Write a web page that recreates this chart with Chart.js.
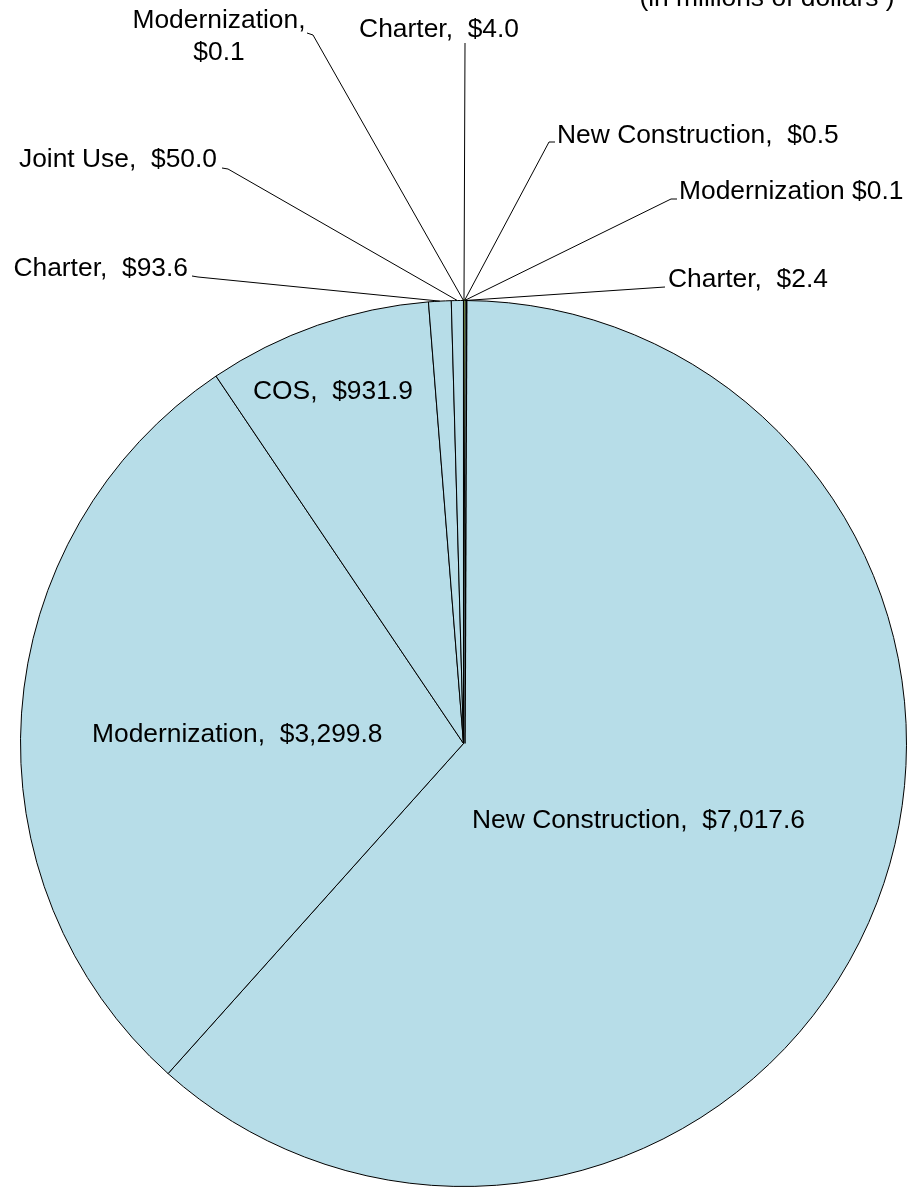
<!DOCTYPE html>
<html>
<head>
<meta charset="utf-8">
<script src="https://cdn.jsdelivr.net/npm/chart.js@4"></script>
<style>
  html, body { margin: 0; padding: 0; background: #fff; overflow: hidden; }
  #wrap { position: absolute; left: 0; top: 0; }
</style>
</head>
<body>
<div id="wrap"><canvas id="pie" width="909" height="1189"></canvas></div>
<script>
// slices, clockwise from 12 o'clock (in millions of dollars)
const categories = [
  "Charter", "New Construction", "Modernization", "Charter",
  "New Construction", "Modernization", "COS", "Charter", "Joint Use", "Modernization"
];
const values = [4.0, 0.5, 0.1, 2.4, 7017.6, 3299.8, 931.9, 93.6, 50.0, 0.1];
const sliceColors = [
  "#9BBB59", "#9BBB59", "#9BBB59", "#9BBB59",
  "#B7DDE8", "#B7DDE8", "#B7DDE8", "#B7DDE8", "#B7DDE8", "#B7DDE8"
];
const subtitle = "(in millions of dollars )";

// the tiny green wedges are outlined in their own colour so they stay visible
const edgeColors = sliceColors.map(c => c === "#9BBB59" ? "#9BBB59" : "#000");
const edgeWidths = sliceColors.map(c => c === "#9BBB59" ? 3 : 1);

// where each label sits (baseline), and the leader line start
const placement = [
  { sep: ",  ", x: 519, y: 37, align: "right", lead: [[465, 43]] },
  { sep: ",  ", x: 557, y: 143, align: "left", lead: [[555, 142], [549, 142]] },
  { sep: " ", x: 679, y: 199, align: "left", lead: [[677, 199], [671, 199]] },
  { sep: ",  ", x: 668, y: 287, align: "left", lead: [[665, 287]] },
  { sep: ",  ", x: 472, y: 828, align: "left" },
  { sep: ",  ", x: 92, y: 742, align: "left" },
  { sep: ",  ", x: 253, y: 399, align: "left" },
  { sep: ",  ", x: 188, y: 276, align: "right", lead: [[192, 276], [198, 277]] },
  { sep: ",  ", x: 217, y: 167, align: "right", lead: [[222, 168], [228, 169]] },
  { sep: ",\n", x: 219, y: 28, align: "center", lead: [[307, 33], [313, 35]] }
];

const FONT = '26.4px "Liberation Sans", Arial, sans-serif';

function fmt(v) {
  return v.toLocaleString("en-US", { minimumFractionDigits: 1, maximumFractionDigits: 1 });
}

const labelPlugin = {
  id: "sliceLabels",
  afterDatasetsDraw(chart) {
    const ctx = chart.ctx;
    const meta = chart.getDatasetMeta(0);
    ctx.save();

    // black rule on the right side of the green strip
    const first = meta.data[4].getProps(["x", "y", "startAngle", "outerRadius"], true);
    ctx.strokeStyle = "#000";
    ctx.lineWidth = 1.5;
    ctx.beginPath();
    ctx.moveTo(first.x + 1.5, first.y);
    ctx.lineTo(first.x + 1.5 + Math.cos(first.startAngle) * first.outerRadius, first.y + Math.sin(first.startAngle) * first.outerRadius);
    ctx.stroke();

    ctx.font = FONT;
    ctx.fillStyle = "#000";
    ctx.lineWidth = 1;
    ctx.textBaseline = "alphabetic";

    meta.data.forEach((arc, i) => {
      const p = placement[i];
      const a = arc.getProps(["x", "y", "startAngle", "endAngle", "outerRadius"], true);
      const mid = (a.startAngle + a.endAngle) / 2;
      const ex = a.x + Math.cos(mid) * a.outerRadius;
      const ey = a.y + Math.sin(mid) * a.outerRadius;

      if (p.lead) {
        ctx.beginPath();
        ctx.moveTo(p.lead[0][0], p.lead[0][1]);
        for (let k = 1; k < p.lead.length; k++) ctx.lineTo(p.lead[k][0], p.lead[k][1]);
        ctx.lineTo(ex, ey);
        ctx.stroke();
      }

      const text = categories[i] + p.sep + "$" + fmt(values[i]);
      ctx.textAlign = p.align;
      text.split("\n").forEach((line, j) => {
        ctx.fillText(line, p.x, p.y + j * 32);
      });
    });

    ctx.textAlign = "center";
    ctx.fillText(subtitle, 767, 6);
    ctx.restore();
  }
};

new Chart(document.getElementById("pie"), {
  type: "pie",
  data: {
    labels: categories,
    datasets: [{
      data: values,
      backgroundColor: sliceColors,
      borderColor: edgeColors,
      borderWidth: edgeWidths,
      hoverOffset: 0,
      offset: 0
    }]
  },
  options: {
    responsive: false,
    animation: false,
    events: [],
    layout: { padding: { top: 299, left: 19, right: 1, bottom: 1 } },
    plugins: {
      legend: { display: false },
      tooltip: { enabled: false }
    }
  },
  plugins: [labelPlugin]
});
</script>
</body>
</html>
